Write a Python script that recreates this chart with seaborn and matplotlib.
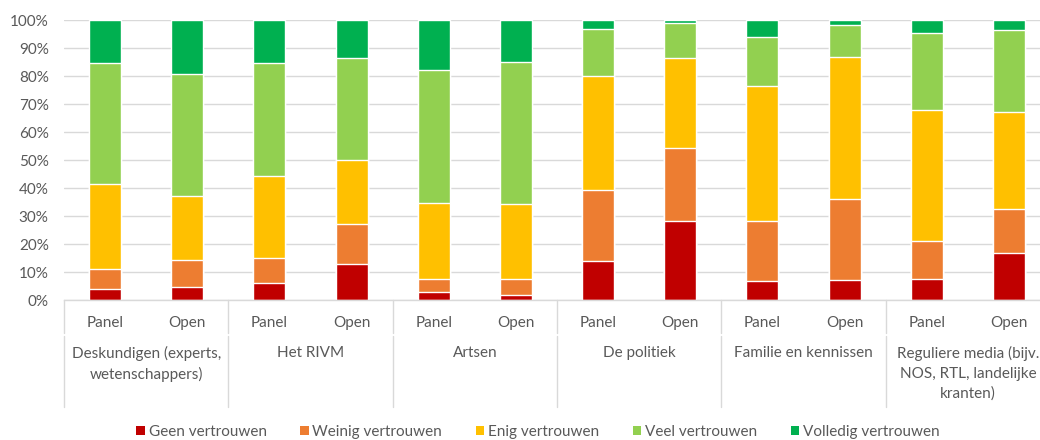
import numpy as np
import pandas as pd
import matplotlib
matplotlib.use("Agg")
import matplotlib.pyplot as plt
import seaborn as sns
from matplotlib.patches import Patch
from matplotlib.lines import Line2D
import matplotlib.transforms as mtransforms

categories = ["Deskundigen (experts,\nwetenschappers)", "Het RIVM", "Artsen",
              "De politiek", "Familie en kennissen",
              "Reguliere media (bijv.\nNOS, RTL, landelijke\nkranten)"]
groups = ["Panel", "Open"]
levels = ["Geen vertrouwen", "Weinig vertrouwen", "Enig vertrouwen",
          "Veel vertrouwen", "Volledig vertrouwen"]

# values per bar (Panel, Open for each category), in %
geen     = [3.8, 4.8, 6.2, 12.9, 2.9, 1.9, 13.8, 28.2, 6.7, 7.1, 7.6, 16.7]
weinig   = [7.2, 9.5, 8.7, 14.2, 4.7, 5.7, 25.4, 26.2, 21.5, 29.1, 13.4, 15.7]
enig     = [30.5, 23.0, 29.5, 22.9, 27.2, 26.8, 40.9, 32.0, 48.1, 50.6, 46.7, 34.9]
veel     = [43.0, 43.4, 40.1, 36.3, 47.2, 50.6, 16.8, 12.4, 17.7, 11.5, 27.8, 29.1]
volledig = [15.5, 19.3, 15.5, 13.7, 18.0, 15.0, 3.1, 1.2, 6.0, 1.7, 4.5, 3.6]

colors = ["#C00000", "#ED7D31", "#FFC000", "#92D050", "#00B050"]
text_color = "#595959"
grid_color = "#D9D9D9"

sns.set_theme(style="white")
plt.rcParams["font.family"] = ["Lato", "DejaVu Sans"]

rows = []
series = [geen, weinig, enig, veel, volledig]
for i in range(len(categories)):
    for j, g in enumerate(groups):
        k = i * 2 + j
        rows.append({"bar": f"{i}_{g}", "cat": categories[i], "grp": g,
                     **{lev: series[n][k] for n, lev in enumerate(levels)}})
df = pd.DataFrame(rows)
order = list(df["bar"])

fig = plt.figure(figsize=(10.4, 4.4), dpi=100)
ax = fig.add_axes([64 / 1040, 140 / 440, 986 / 1040, 280 / 440])

cum = df[levels].cumsum(axis=1)
for n in range(len(levels) - 1, -1, -1):
    d = pd.DataFrame({"bar": df["bar"], "val": cum[levels[n]]})
    sns.barplot(data=d, x="bar", y="val", order=order, color=colors[n],
                saturation=1, width=0.39, ax=ax, errorbar=None)

fs = 11
ax.set_xlim(-0.5, 11.5)
ax.set_ylim(0, 100)
ax.set_yticks(np.arange(0, 101, 10))
ax.set_yticklabels([f"{v}%" for v in range(0, 101, 10)], color=text_color, fontsize=fs)
ax.yaxis.grid(True, color=grid_color, linewidth=1)
ax.set_axisbelow(True)
ax.tick_params(axis="y", length=0, pad=11)
ax.tick_params(axis="x", length=0, pad=0)
ax.set_xticks([])
ax.set_xlabel("")
ax.set_ylabel("")
for s in ["top", "right", "left"]:
    ax.spines[s].set_visible(False)
ax.spines["bottom"].set_color(grid_color)
ax.spines["bottom"].set_linewidth(1)

trans = mtransforms.blended_transform_factory(ax.transData, fig.transFigure)
H = 440.0
for k in range(12):
    ax.text(k, 1 - 323 / H, groups[k % 2], transform=trans, ha="center",
            va="center", color=text_color, fontsize=fs)
for i, c in enumerate(categories):
    ax.text(2 * i + 0.5, 1 - 346 / H, c, transform=trans, ha="center",
            va="top", color=text_color, fontsize=fs, linespacing=1.5)
for b in np.arange(-0.5, 12, 2):
    for y0, y1 in [(300, 333), (336, 407)]:
        ax.add_line(Line2D([b, b], [1 - y0 / H, 1 - y1 / H], transform=trans,
                           color=grid_color, linewidth=1, clip_on=False))

handles = [Patch(facecolor=colors[n], edgecolor="none", label=levels[n]) for n in range(5)]
leg = fig.legend(handles=handles, loc="center", bbox_to_anchor=(538 / 1040, 1 - 432 / H),
                 ncol=5, frameon=False, fontsize=fs, handlelength=0.55,
                 handleheight=0.55, handletextpad=0.25, columnspacing=2.2)
for t in leg.get_texts():
    t.set_color(text_color)

fig.savefig("out.png", dpi=100)
